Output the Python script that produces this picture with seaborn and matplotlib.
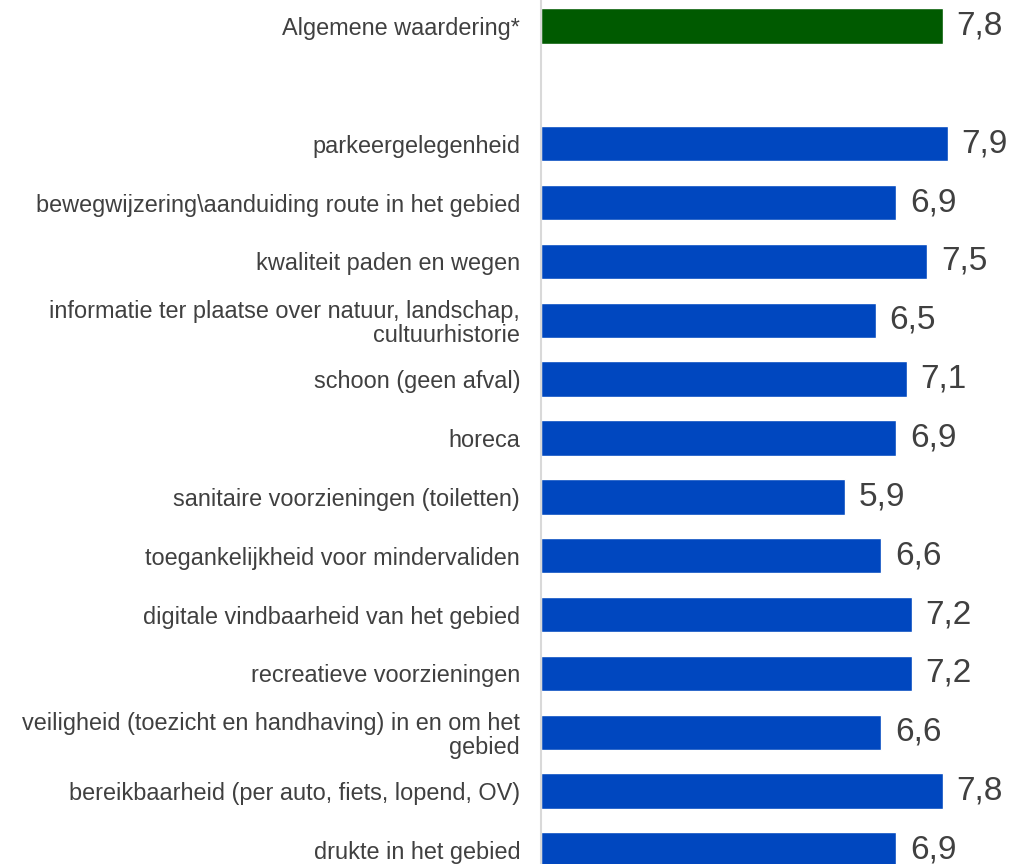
import pandas as pd
import matplotlib.pyplot as plt
import seaborn as sns

# data
labels = [
    "Algemene waardering*",
    " ",
    "parkeergelegenheid",
    "bewegwijzering\\aanduiding route in het gebied",
    "kwaliteit paden en wegen",
    "informatie ter plaatse over natuur, landschap,\ncultuurhistorie",
    "schoon (geen afval)",
    "horeca",
    "sanitaire voorzieningen (toiletten)",
    "toegankelijkheid voor mindervaliden",
    "digitale vindbaarheid van het gebied",
    "recreatieve voorzieningen",
    "veiligheid (toezicht en handhaving) in en om het\ngebied",
    "bereikbaarheid (per auto, fiets, lopend, OV)",
    "drukte in het gebied",
]
scores = [7.8, None, 7.9, 6.9, 7.5, 6.5, 7.1, 6.9, 5.9, 6.6, 7.2, 7.2, 6.6, 7.8, 6.9]

GROEN = "#005A00"
BLAUW = "#0047BF"
kleuren = {lab: (GROEN if i == 0 else BLAUW) for i, lab in enumerate(labels)}

df = pd.DataFrame({"label": labels, "score": scores}).dropna()

sns.set_style("white")
plt.rcParams["font.family"] = ["Liberation Sans", "DejaVu Sans"]

fig = plt.figure(figsize=(10.1, 8.64), dpi=100)
ax = fig.add_axes([541 / 1010, 0, 469 / 1010, 1])

sns.barplot(data=df, x="score", y="label", order=labels, hue="label",
            palette=kleuren, legend=False, width=0.6, orient="h",
            saturation=1, ax=ax)

# waardes achter de balken
for cont in ax.containers:
    ax.bar_label(cont, labels=[f"{v:.1f}".replace(".", ",") for v in cont.datavalues],
                 padding=10, fontsize=24, color="#404040")

ax.set_xlim(0, 469 / 51.5)
ax.set_ylim(14.238, -0.442)
ax.set_xlabel("")
ax.set_ylabel("")
ax.set_xticks([])
ax.tick_params(axis="y", length=0, pad=15, labelsize=16.9, labelcolor="#404040")
for t in ax.get_yticklabels():
    t.set_linespacing(1.08)
for s in ["top", "right", "bottom"]:
    ax.spines[s].set_visible(False)
ax.spines["left"].set_color("#D9D9D9")
ax.spines["left"].set_linewidth(1.5)

plt.savefig("out.png", dpi=100)
